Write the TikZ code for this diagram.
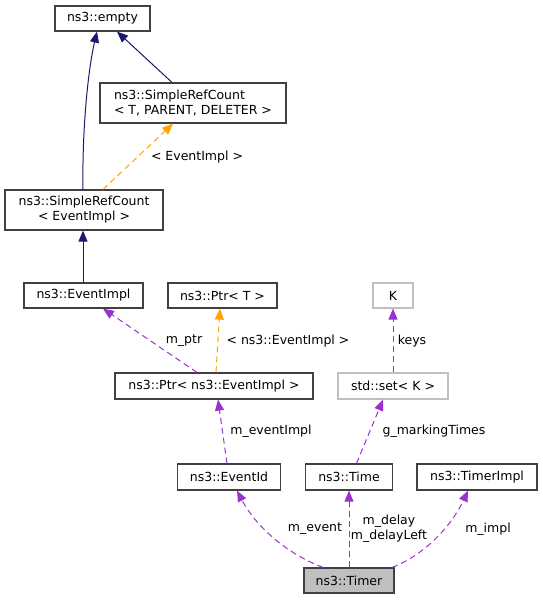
\documentclass[tikz,border=0pt]{standalone}
\usepackage{fontspec}
\setmainfont{DejaVu Sans}
\usetikzlibrary{arrows.meta}
\definecolor{boxline}{HTML}{404040}
\definecolor{greyline}{HTML}{BFBFBF}
\definecolor{navy}{HTML}{191970}
\definecolor{orng}{HTML}{FFA500}
\definecolor{purp}{HTML}{9A32CD}
\definecolor{timerfill}{HTML}{BFBFBF}
\tikzset{
  cls/.style={draw=boxline, line width=1.2pt, fill=white, inner sep=0pt, font=\fontsize{12.5}{15}\selectfont},
  ext/.style={cls, draw=greyline},
  lbl/.style={inner sep=0pt, font=\fontsize{12.5}{15}\selectfont},
  tipstyle/.style={-{Triangle[length=11pt,width=9pt]}},
  inherit/.style={tipstyle, draw=navy, line width=1pt},
  templ/.style={tipstyle, draw=orng, line width=1pt, dash pattern=on 6pt off 4pt},
  usage/.style={tipstyle, draw=purp, line width=1pt, dash pattern=on 6pt off 4pt},
}
\begin{document}
\begin{tikzpicture}[x=1pt,y=-1pt]
\useasboundingbox (0,0) rectangle (543,600);
% nodes
\node[cls, minimum width=95pt, minimum height=25pt] (empty) at (102.5,18.5) {ns3::empty};
\node[cls, minimum width=186pt, minimum height=40pt, align=left] (srcTPD) at (193,103) {ns3::SimpleRefCount\\< T, PARENT, DELETER >};
\node[cls, minimum width=158pt, minimum height=40pt, align=center] (srcEI) at (84,210) {ns3::SimpleRefCount\\< EventImpl >};
\node[cls, minimum width=119pt, minimum height=25pt] (eventimpl) at (83.5,295.5) {ns3::EventImpl};
\node[cls, minimum width=109pt, minimum height=25pt] (ptrT) at (222.5,295.5) {ns3::Ptr< T >};
\node[ext, minimum width=40pt, minimum height=25pt] (K) at (393,295.5) {K};
\node[cls, minimum width=198pt, minimum height=26pt] (ptrEI) at (214,386) {ns3::Ptr< ns3::EventImpl >};
\node[ext, minimum width=110pt, minimum height=26pt] (set) at (393,386) {std::set< K >};
\node[cls, minimum width=103pt, minimum height=26pt] (eventid) at (229,477) {ns3::EventId};
\node[cls, minimum width=87pt, minimum height=26pt] (time) at (349,477) {ns3::Time};
\node[cls, minimum width=120pt, minimum height=26pt] (timerimpl) at (477,477) {ns3::TimerImpl};
\node[cls, fill=timerfill, minimum width=90pt, minimum height=25pt] (timer) at (349,580.5) {ns3::Timer};
% edges
\draw[inherit] ([xshift=-1pt]srcEI.north) .. controls (82,130) and (88,70) .. ([xshift=-5.5pt]empty.south);
\draw[inherit] ([xshift=-21pt]srcTPD.north) -- ([xshift=14.5pt]empty.south);
\draw[templ] ([xshift=19pt]srcEI.north) -- ([xshift=-20pt]srcTPD.south);
\draw[inherit] ([xshift=-0.5pt]eventimpl.north) -- ([xshift=-1pt]srcEI.south);
\draw[usage] ([xshift=-17pt]ptrEI.north) -- ([xshift=19.5pt]eventimpl.south);
\draw[templ] ([xshift=2pt]ptrEI.north) -- ([xshift=-2.5pt]ptrT.south);
\draw[usage] (set.north) -- (K.south);
\draw[usage] ([xshift=-2pt]eventid.north) -- ([xshift=4pt]ptrEI.south);
\draw[usage] ([xshift=7.5pt]time.north) -- ([xshift=-10pt]set.south);
\draw[usage] ([xshift=-26pt]timer.north) .. controls (285,553) and (255,525) .. ([xshift=8pt]eventid.south);
\draw[usage] (timer.north) -- (time.south);
\draw[usage] ([xshift=43pt]timer.north) .. controls (425,555) and (452,525) .. ([xshift=-9pt]timerimpl.south);
% labels
\node[lbl] (l1) at (197,157) {< EventImpl >};
\node[lbl] (l2) at (184,341) {m\_ptr};
\node[lbl] (l3) at (288,341) {< ns3::EventImpl >};
\node[lbl] (l4) at (412,341) {keys};
\node[lbl] (l5) at (271,431) {m\_eventImpl};
\node[lbl] (l6) at (434,431) {g\_markingTimes};
\node[lbl] (l7) at (315,529) {m\_event};
\node[lbl, align=center] (l8) at (389,528.5) {m\_delay\\m\_delayLeft};
\node[lbl] (l9) at (488,529) {m\_impl};
\end{tikzpicture}
\end{document}
